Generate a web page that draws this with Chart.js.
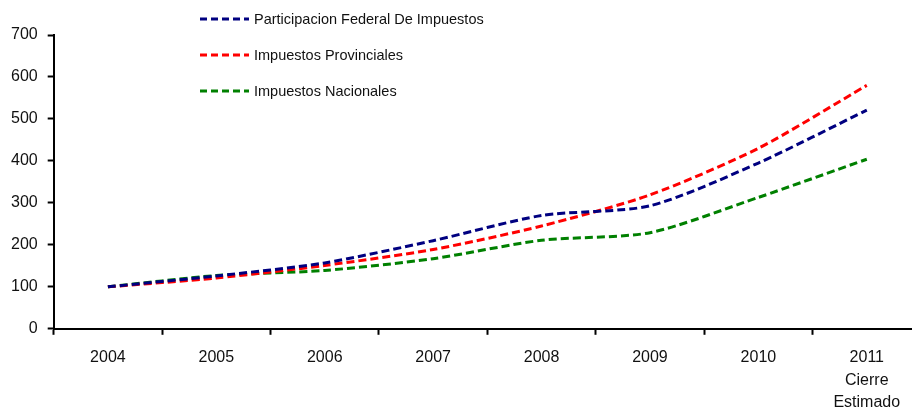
<!DOCTYPE html>
<html lang="es">
<head>
<meta charset="UTF-8">
<title>Impuestos 2004-2011</title>
<script src="https://cdn.jsdelivr.net/npm/chart.js@4.4.1/dist/chart.umd.min.js"></script>
<style>
  html, body { margin: 0; padding: 0; background: #fff; overflow: hidden; }
  #wrap { width: 922px; height: 426px; }
</style>
</head>
<body>
<div id="wrap"><canvas id="chart"></canvas></div>
<script>
// Datos (índice base 2004 = 100)
const years = ['2004', '2005', '2006', '2007', '2008', '2009', '2010', ['2011', 'Cierre', 'Estimado']];
const federal = [100, 126, 157, 210, 270, 293, 395, 521];
const provinciales = [100, 121, 151, 189, 245, 319, 430, 580];
const nacionales = [100, 127, 139, 167, 211, 229, 313, 404];
const yTicks = [0, 100, 200, 300, 400, 500, 600, 700];

const FONT = '"Liberation Sans", Arial, sans-serif';

// legend drawn as a stacked list at the top, like the original
const stackedLegend = {
  id: 'stackedLegend',
  afterDraw(chart) {
    const { ctx } = chart;
    ctx.save();
    ctx.font = '14.5px ' + FONT;
    ctx.textBaseline = 'middle';
    chart.data.datasets.forEach((ds, i) => {
      const y = 19 + i * 36;
      ctx.strokeStyle = ds.borderColor;
      ctx.lineWidth = 3;
      ctx.setLineDash([7, 4]);
      ctx.beginPath();
      ctx.moveTo(200, y);
      ctx.lineTo(249, y);
      ctx.stroke();
      ctx.setLineDash([]);
      ctx.fillStyle = '#111';
      ctx.fillText(ds.label, 254, y + 1);
    });
    ctx.restore();
  }
};

function line(label, data, color) {
  return {
    label,
    data,
    borderColor: color,
    backgroundColor: color,
    borderWidth: 3,
    borderDash: [8, 4],
    pointRadius: 0,
    tension: 0.25,
    fill: false
  };
}

new Chart(document.getElementById('chart'), {
  type: 'line',
  data: {
    labels: years,
    datasets: [
      line('Participacion Federal De Impuestos', federal, '#000080'),
      line('Impuestos Provinciales', provinciales, '#ff0000'),
      line('Impuestos Nacionales', nacionales, '#008000')
    ]
  },
  options: {
    responsive: true,
    maintainAspectRatio: false,
    animation: false,
    layout: { padding: { top: 35, right: 1, left: 1, bottom: 0 } },
    plugins: {
      legend: { display: false },
      tooltip: { enabled: false }
    },
    scales: {
      x: {
        offset: true,
        grid: {
          offset: true,
          drawOnChartArea: false,
          drawTicks: true,
          tickLength: 6,
          tickColor: '#000',
          tickWidth: 2
        },
        border: { color: '#000', width: 2 },
        ticks: {
          color: '#111',
          padding: 12,
          maxRotation: 0,
          font: { family: FONT, size: 16, lineHeight: 1.4 }
        }
      },
      y: {
        min: 0,
        max: 700,
        afterBuildTicks(scale) {
          scale.ticks = yTicks.map(v => ({ value: v }));
        },
        grid: {
          drawOnChartArea: false,
          drawTicks: true,
          tickLength: 6,
          tickColor: '#000',
          tickWidth: 2
        },
        border: { color: '#000', width: 2 },
        ticks: {
          color: '#111',
          padding: 10,
          font: { family: FONT, size: 16 }
        }
      }
    }
  },
  plugins: [stackedLegend]
});
</script>
</body>
</html>
